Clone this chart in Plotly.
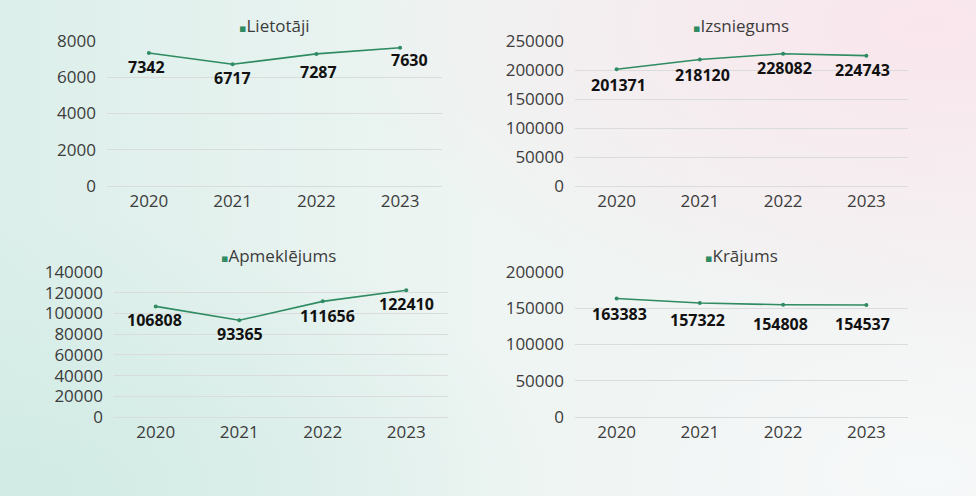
import base64
import plotly.graph_objects as go

years = ["2020", "2021", "2022", "2023"]
lietotaji = [7342, 6717, 7287, 7630]
izsniegums = [201371, 218120, 228082, 224743]
apmeklejums = [106808, 93365, 111656, 122410]
krajums = [163383, 157322, 154808, 154537]

titles = ["Lietotāji", "Izsniegums", "Apmeklējums", "Krājums"]
series = [lietotaji, izsniegums, apmeklejums, krajums]
y_ranges = [(0, 8000), (0, 250000), (0, 140000), (0, 200000)]
y_dticks = [2000, 50000, 20000, 50000]

# layout (pixel fractions of a 976x496 page)
W, H = 976, 496
x_domains = [(107, 442), (575, 908), (114, 448), (575, 908)]
y_domains_px = [(41, 186), (41, 186), (272, 417), (272, 417)]
title_px = [(274, 25), (741, 25), (278, 255), (741, 255)]
# label offsets (dx, dy) in pixels
label_offsets = [
    [(-2, 14), (0, 14), (2, 18), (9, 12)],
    [(2, 16), (3, 16), (1, 14), (-4, 14)],
    [(-1, 14), (1, 14), (5, 15), (0, 14)],
    [(3, 15), (-2, 17), (-3, 19), (-4, 19)],
]

LINE = "#2e8b62"
TICK = "#3c3c3c"
GRID = "#d9dcdb"
FONT = "Open Sans"

svg = f'''<svg xmlns="http://www.w3.org/2000/svg" width="{W}" height="{H}" viewBox="0 0 {W} {H}" preserveAspectRatio="none">
<defs>
<linearGradient id="g0" x1="0" y1="0" x2="1" y2="0">
<stop offset="0" stop-color="#dcefea"/>
<stop offset="0.5" stop-color="#eef5f3"/>
<stop offset="1" stop-color="#f4f3f4"/>
</linearGradient>
<radialGradient id="pk" cx="0.95" cy="0.05" r="0.6">
<stop offset="0" stop-color="#f9e6ec" stop-opacity="1"/>
<stop offset="1" stop-color="#f9e6ec" stop-opacity="0"/>
</radialGradient>
<radialGradient id="mt" cx="0.02" cy="0.98" r="0.55">
<stop offset="0" stop-color="#d2ebe5" stop-opacity="1"/>
<stop offset="1" stop-color="#d2ebe5" stop-opacity="0"/>
</radialGradient>
<radialGradient id="wh" cx="0.95" cy="0.95" r="0.35">
<stop offset="0" stop-color="#f6f9f9" stop-opacity="1"/>
<stop offset="1" stop-color="#f6f9f9" stop-opacity="0"/>
</radialGradient>
</defs>
<rect width="{W}" height="{H}" fill="url(#g0)"/>
<rect width="{W}" height="{H}" fill="url(#pk)"/>
<rect width="{W}" height="{H}" fill="url(#mt)"/>
<rect width="{W}" height="{H}" fill="url(#wh)"/>
</svg>'''
bg_src = "data:image/svg+xml;base64," + base64.b64encode(svg.encode()).decode()

fig = go.Figure()
annotations = []
layout_axes = {}

for i, (title, vals) in enumerate(zip(titles, series)):
    n = i + 1
    xa = "x" if n == 1 else f"x{n}"
    ya = "y" if n == 1 else f"y{n}"
    fig.add_trace(go.Scatter(
        x=years, y=vals, xaxis=xa, yaxis=ya, mode="lines+markers",
        line=dict(color=LINE, width=1.6), marker=dict(color=LINE, size=4),
        showlegend=False, hoverinfo="x+y",
    ))
    x0, x1 = x_domains[i]
    ytop, ybot = y_domains_px[i]
    layout_axes["xaxis" if n == 1 else f"xaxis{n}"] = dict(
        domain=[x0 / W, x1 / W], anchor=ya, type="category",
        categoryorder="array", categoryarray=years,
        range=[-0.5, len(years) - 0.5], autorange=False, automargin=False,
        showgrid=False, showline=False, zeroline=False, ticks="",
        tickfont=dict(family=FONT, size=17, color=TICK), ticklabelstandoff=3,
    )
    layout_axes["yaxis" if n == 1 else f"yaxis{n}"] = dict(
        domain=[1 - ybot / H, 1 - ytop / H], anchor=xa,
        range=list(y_ranges[i]), autorange=False, automargin=False,
        dtick=y_dticks[i], tick0=0, tickformat="d",
        showgrid=True, gridcolor=GRID, gridwidth=1,
        zeroline=True, zerolinecolor=GRID, zerolinewidth=1,
        showline=False, ticks="", ticklabelstandoff=10,
        tickfont=dict(family=FONT, size=17, color=TICK),
    )
    for j, v in enumerate(vals):
        dx, dy = label_offsets[i][j]
        annotations.append(dict(
            x=j, y=v, xref=xa, yref=ya, text=f"<b>{v}</b>", showarrow=False,
            xanchor="center", yanchor="middle",
            xshift=dx, yshift=-dy, font=dict(family=FONT, size=16, color="#111111"),
        ))
    tx, ty = title_px[i]
    annotations.append(dict(
        x=tx / W, y=1 - ty / H, xref="paper", yref="paper", showarrow=False,
        xanchor="center", yanchor="middle",
        text=f"<span style='color:{LINE};font-family:DejaVu Sans;font-size:11px'>▪</span>{title}",
        font=dict(family=FONT, size=17, color=TICK),
    ))

fig.update_layout(
    width=W, height=H, margin=dict(l=0, r=0, t=0, b=0, pad=0),
    paper_bgcolor="#eef5f3", plot_bgcolor="rgba(0,0,0,0)",
    annotations=annotations,
    images=[dict(source=bg_src, xref="paper", yref="paper", x=0, y=1,
                 sizex=1, sizey=1, sizing="stretch", layer="below",
                 xanchor="left", yanchor="top")],
    **layout_axes,
)

fig.write_html(
    "out.html",
    config={"displayModeBar": False},
    post_script="document.body.style.margin='0';document.body.style.overflow='hidden';",
)
